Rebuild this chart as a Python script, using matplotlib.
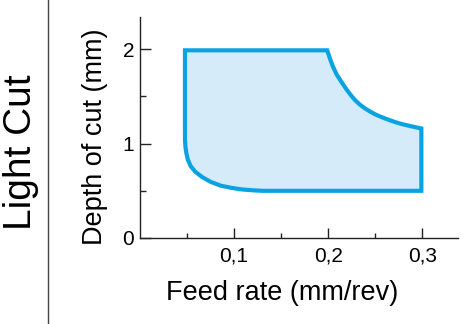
import matplotlib
matplotlib.use('Agg')
import matplotlib.pyplot as plt
from matplotlib.ticker import FixedLocator

plt.rcParams['font.family'] = ['Liberation Sans', 'DejaVu Sans']

# boundary of the recommended region (clockwise from top-left)
feed = [0.048, 0.199,
        0.202, 0.205, 0.209, 0.214, 0.2195, 0.224, 0.2285, 0.2335, 0.239, 0.2445, 0.250,
        0.255, 0.260, 0.271, 0.279, 0.287, 0.293, 0.299,
        0.299, 0.130,
        0.120, 0.108, 0.097, 0.086, 0.075, 0.066, 0.059, 0.054, 0.051, 0.0495, 0.0485, 0.048]
depth = [1.99, 1.99,
         1.90, 1.82, 1.735, 1.656, 1.575, 1.515, 1.462, 1.415, 1.374, 1.34, 1.310,
         1.288, 1.268, 1.228, 1.205, 1.186, 1.173, 1.16,
         0.498, 0.498,
         0.503, 0.513, 0.53, 0.552, 0.594, 0.645, 0.70, 0.76, 0.83, 0.896, 0.96, 1.04]

x_ticks = [0.1, 0.2, 0.3]
x_labels = ['0,1', '0,2', '0,3']
y_ticks = [0, 1, 2]
y_labels = ['0', '1', '2']

fig = plt.figure(figsize=(4.66, 3.24), dpi=100)
ax = fig.add_axes([0.3, 0.2664, 0.683, 0.680])

ax.fill(feed, depth, facecolor='#d6ebf9', edgecolor='#0aa3e2', linewidth=3, joinstyle='miter')

ax.set_xlim(0, 0.338)
ax.set_ylim(0, 2.34)
for s in ['top', 'right']:
    ax.spines[s].set_visible(False)
for s in ['left', 'bottom']:
    ax.spines[s].set_linewidth(1.0)
    ax.spines[s].set_color('#222222')

ax.set_xticks(x_ticks)
ax.set_xticklabels(x_labels)
ax.set_yticks(y_ticks)
ax.set_yticklabels(y_labels)
ax.xaxis.set_minor_locator(FixedLocator([0.05, 0.15, 0.25]))
ax.yaxis.set_minor_locator(FixedLocator([0.5, 1.5]))
ax.tick_params(axis='both', which='both', direction='in', labelsize=15, width=1, color='#222222')
ax.tick_params(axis='x', which='major', length=7, pad=6)
ax.tick_params(axis='x', which='minor', length=3.5)
ax.tick_params(axis='y', which='major', length=8, pad=4)
ax.tick_params(axis='y', which='minor', length=4.5)

ax.set_xlabel('Feed rate (mm/rev)', fontsize=19.5, va='center')
ax.xaxis.set_label_coords(0.447, -0.25)
ax.set_ylabel('Depth of cut (mm)', fontsize=19.5, va='center')
ax.yaxis.set_label_coords(-0.141, 0.457)

fig.text(21 / 466, 1 - 152 / 324, 'Light Cut', rotation=90, fontsize=28,
         ha='center', va='center')
fig.add_artist(plt.Line2D([48 / 466, 48 / 466], [0, 1], color='#444444', linewidth=1))

fig.savefig('out.png', dpi=100)
